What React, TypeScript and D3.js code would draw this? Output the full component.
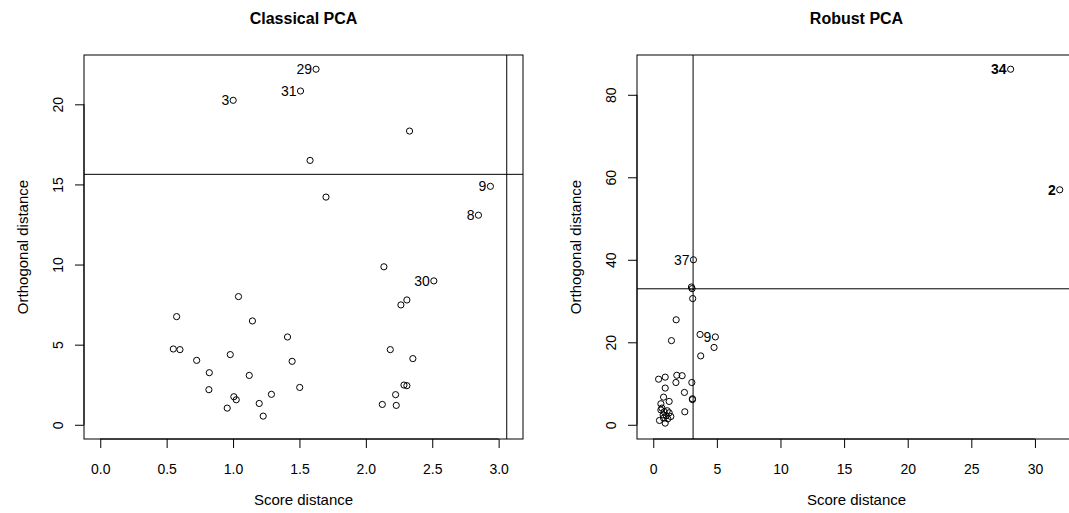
import React, { useEffect, useRef } from "react";
import * as d3 from "d3";

// Classical PCA: score distance, orthogonal distance, id label
const CLASSICAL_SD = [
  1.625, 1.508, 1.001, 2.329, 1.58, 2.938, 1.7, 2.848, 2.136, 2.512, 2.309, 2.264, 2.184,
  2.354, 2.287, 2.309, 2.224, 2.124, 2.229, 1.041, 0.575, 1.146, 1.41, 0.55, 0.6, 0.979,
  1.445, 0.726, 0.821, 1.122, 0.818, 1.502, 1.289, 1.006, 1.024, 1.197, 0.956, 1.227,
];
const CLASSICAL_OD = [
  22.19, 20.83, 20.25, 18.33, 16.5, 14.88, 14.21, 13.08, 9.86, 8.98, 7.79, 7.48, 4.69,
  4.13, 2.48, 2.44, 1.88, 1.27, 1.21, 8.0, 6.75, 6.48, 5.48, 4.73, 4.69, 4.38,
  3.96, 4.02, 3.25, 3.08, 2.19, 2.33, 1.9, 1.75, 1.56, 1.33, 1.04, 0.54,
];
const CLASSICAL_ID = [
  "29", "31", "3", "", "", "9", "", "8", "", "30", "", "", "",
  "", "", "", "", "", "", "", "", "", "", "", "", "",
  "", "", "", "", "", "", "", "", "", "", "", "",
];

// Robust PCA
const ROBUST_SD = [
  28.09, 31.95, 3.16, 3.0, 3.05, 3.1, 1.8, 1.43, 3.68, 4.88, 4.78, 3.73, 0.42, 0.94,
  1.85, 2.27, 1.78, 3.03, 0.94, 2.45, 0.81, 3.08, 3.08, 1.25, 0.6, 0.68, 2.48,
  0.6, 0.86, 1.1, 1.25, 0.78, 1.02, 1.38, 0.81, 0.49, 0.94, 1.14,
];
const ROBUST_OD = [
  86.2, 56.97, 40.0, 33.4, 33.0, 30.6, 25.45, 20.4, 21.9, 21.3, 18.75, 16.7, 11.05, 11.55,
  12.0, 11.9, 10.25, 10.25, 8.9, 7.84, 6.7, 6.3, 6.1, 5.66, 5.1, 4.04, 3.15,
  3.6, 3.15, 3.4, 2.9, 2.4, 2.2, 2.0, 1.6, 1.05, 0.4, 1.45,
];
const ROBUST_ID = [
  "34", "2", "37", "", "", "", "", "", "", "9", "", "", "", "",
  "", "", "", "", "", "", "", "", "", "", "", "", "",
  "", "", "", "", "", "", "", "", "", "", "",
];
// ids printed darker in the robust plot
const ROBUST_BOLD_IDS = ["34", "2"];

const CLASSICAL_CUTOFF = { sd: 3.061, od: 15.63 };
const ROBUST_CUTOFF = { sd: 3.13, od: 32.97 };

const CLASSICAL_X_TICKS = [0, 0.5, 1, 1.5, 2, 2.5, 3];
const CLASSICAL_Y_TICKS = [0, 5, 10, 15, 20];
const ROBUST_X_TICKS = [0, 5, 10, 15, 20, 25, 30];
const ROBUST_Y_TICKS = [0, 20, 40, 60, 80];

const FONT = "'Liberation Sans', Arial, Helvetica, sans-serif";

interface Panel {
  title: string;
  sd: number[];
  od: number[];
  ids: string[];
  boldIds: string[];
  cutoff: { sd: number; od: number };
  xTicks: number[];
  yTicks: number[];
  xFormat: (d: number) => string;
  left: number;
}

// R style axis limits: 0..max, padded by 4% on each side
function rLimits(values: number[], extra: number): [number, number] {
  const hi = Math.max(d3.max(values) ?? 0, extra);
  const pad = hi * 0.04;
  return [-pad, hi + pad];
}

export default function App() {
  const svgRef = useRef<SVGSVGElement>(null);

  useEffect(() => {
    if (!svgRef.current) return;
    const svg = d3.select(svgRef.current);
    svg.selectAll("*").remove();

    const top = 55;
    const bottom = 439;
    const plotW = 439;

    const panels: Panel[] = [
      {
        title: "Classical PCA",
        sd: CLASSICAL_SD,
        od: CLASSICAL_OD,
        ids: CLASSICAL_ID,
        boldIds: [],
        cutoff: CLASSICAL_CUTOFF,
        xTicks: CLASSICAL_X_TICKS,
        yTicks: CLASSICAL_Y_TICKS,
        xFormat: d3.format(".1f"),
        left: 84,
      },
      {
        title: "Robust PCA",
        sd: ROBUST_SD,
        od: ROBUST_OD,
        ids: ROBUST_ID,
        boldIds: ROBUST_BOLD_IDS,
        cutoff: ROBUST_CUTOFF,
        xTicks: ROBUST_X_TICKS,
        yTicks: ROBUST_Y_TICKS,
        xFormat: d3.format("d"),
        left: 637,
      },
    ];

    panels.forEach((p) => {
      const x = d3.scaleLinear()
        .domain(rLimits(p.sd, p.cutoff.sd))
        .range([p.left, p.left + plotW]);
      const y = d3.scaleLinear()
        .domain(rLimits(p.od, p.cutoff.od))
        .range([bottom, top]);
      const g = svg.append("g");

      // cutoff lines
      g.append("line")
        .attr("x1", p.left).attr("x2", p.left + plotW)
        .attr("y1", y(p.cutoff.od)).attr("y2", y(p.cutoff.od))
        .attr("stroke", "#000").attr("stroke-width", 1);
      g.append("line")
        .attr("x1", x(p.cutoff.sd)).attr("x2", x(p.cutoff.sd))
        .attr("y1", top).attr("y2", bottom)
        .attr("stroke", "#000").attr("stroke-width", 1);

      // points
      g.append("g")
        .selectAll("circle")
        .data(p.sd.map((s, i) => ({ s, o: p.od[i] })))
        .join("circle")
        .attr("cx", (d) => x(d.s))
        .attr("cy", (d) => y(d.o))
        .attr("r", 3.1)
        .attr("fill", "none")
        .attr("stroke", "#000")
        .attr("stroke-width", 1);

      // point labels
      g.append("g")
        .selectAll("text")
        .data(p.sd.map((s, i) => ({ s, o: p.od[i], id: p.ids[i] })).filter((d) => d.id))
        .join("text")
        .attr("x", (d) => x(d.s) - 4)
        .attr("y", (d) => y(d.o))
        .attr("dy", "0.36em")
        .attr("text-anchor", "end")
        .style("font-family", FONT)
        .style("font-size", "14px")
        .style("font-weight", (d) => (p.boldIds.includes(d.id) ? "bold" : "normal"))
        .text((d) => d.id);

      // box
      g.append("rect")
        .attr("x", p.left).attr("y", top)
        .attr("width", plotW).attr("height", bottom - top)
        .attr("fill", "none").attr("stroke", "#000").attr("stroke-width", 1);

      // x axis
      const xAxis = g.append("g")
        .attr("transform", `translate(0,${bottom})`)
        .call(d3.axisBottom(x).tickValues(p.xTicks).tickSize(9).tickFormat((d) => p.xFormat(d as number)));
      xAxis.select(".domain").attr("d", `M${x(p.xTicks[0])},0H${x(p.xTicks[p.xTicks.length - 1])}`);
      xAxis.selectAll("text")
        .attr("y", 35).attr("dy", "0")
        .style("font-family", FONT).style("font-size", "14px").attr("fill", "#000");
      xAxis.selectAll("line, path").attr("stroke", "#000");

      // y axis
      const yAxis = g.append("g")
        .attr("transform", `translate(${p.left},0)`)
        .call(d3.axisLeft(y).tickValues(p.yTicks).tickSize(9).tickFormat((d) => String(d)));
      yAxis.select(".domain").attr("d", `M0,${y(p.yTicks[0])}V${y(p.yTicks[p.yTicks.length - 1])}`);
      yAxis.selectAll("text")
        .attr("x", null).attr("dy", null)
        .attr("transform", "translate(-26,0) rotate(-90)")
        .attr("text-anchor", "middle")
        .attr("dy", "0.35em")
        .style("font-family", FONT).style("font-size", "14px").attr("fill", "#000");
      yAxis.selectAll("line, path").attr("stroke", "#000");

      // titles
      const cx = p.left + plotW / 2;
      g.append("text")
        .attr("x", cx).attr("y", 24)
        .attr("text-anchor", "middle")
        .style("font-family", FONT).style("font-size", "16px").style("font-weight", "bold")
        .text(p.title);
      g.append("text")
        .attr("x", cx).attr("y", 505)
        .attr("text-anchor", "middle")
        .style("font-family", FONT).style("font-size", "15px")
        .text("Score distance");
      g.append("text")
        .attr("transform", `translate(${p.left - 61},${(top + bottom) / 2}) rotate(-90)`)
        .attr("dy", "0.35em")
        .attr("text-anchor", "middle")
        .style("font-family", FONT).style("font-size", "15px")
        .text("Orthogonal distance");
    });
  }, []);

  return (
    <svg
      ref={svgRef}
      width={1069}
      height={513}
      style={{ position: "absolute", left: 0, top: 0, background: "#fff", display: "block" }}
    />
  );
}
